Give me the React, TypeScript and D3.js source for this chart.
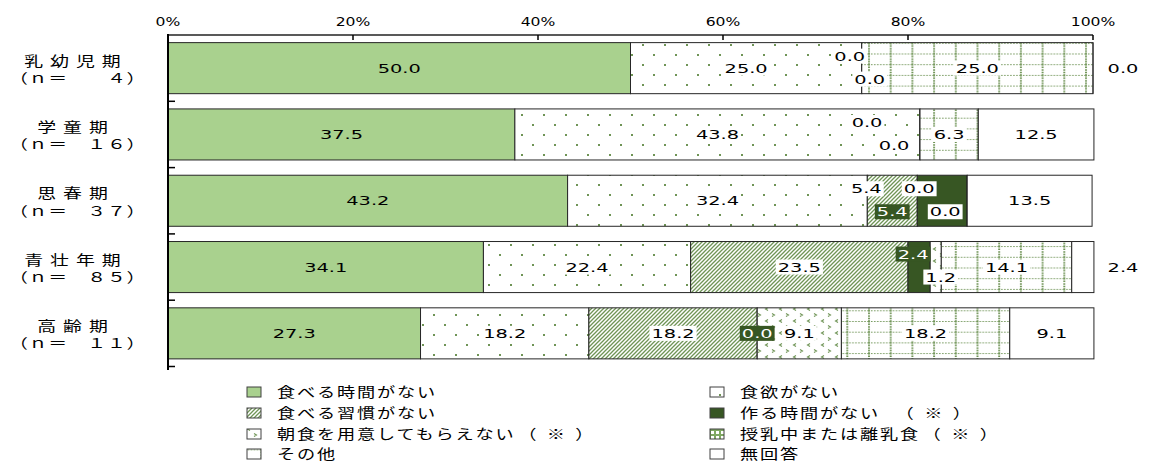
import React from "react";
import * as d3 from "d3";

const groups = ["乳幼児期", "学童期", "思春期", "青壮年期", "高齢期"];
const groupNs = ["（ｎ＝　　４）", "（ｎ＝　１６）", "（ｎ＝　３７）", "（ｎ＝　８５）", "（ｎ＝　１１）"];
const ticks = [0, 20, 40, 60, 80, 100];

// series, in stacking order (null = not asked for that group)
const seriesNames = [
  "食べる時間がない",
  "食欲がない",
  "食べる習慣がない",
  "作る時間がない",
  "朝食を用意してもらえない",
  "授乳中または離乳食",
  "その他",
  "無回答",
];
const seriesNote = ["", "", "", "（※）", "（※）", "（※）", "", ""];
const noTime = [50.0, 37.5, 43.2, 34.1, 27.3];
const noAppetite = [25.0, 43.8, 32.4, 22.4, 18.2];
const noHabit = [0.0, 0.0, 5.4, 23.5, 18.2];
const noTimeToCook = [null, null, 5.4, 2.4, 0.0];
const notPrepared = [null, 0.0, 0.0, 1.2, 9.1];
const nursing = [0.0, null, null, null, null];
const other = [25.0, 6.3, 0.0, 14.1, 18.2];
const noAnswer = [0.0, 12.5, 13.5, 2.4, 9.1];
const seriesValues = [noTime, noAppetite, noHabit, noTimeToCook, notPrepared, nursing, other, noAnswer];

const W = 1153;
const H = 464;
const GREEN = "#a9d18e";
const DARK = "#375623";
const PAT = "#6f9456";

// fills per series (pattern ids defined below)
const fills = [GREEN, "url(#pDots)", "url(#pHatch)", DARK, "url(#pArrow)", "url(#pCheck)", "url(#pGrid)", "#ffffff"];
// label background: none / white / dark
const labelBg = ["none", "white", "white", "dark", "white", "white", "white", "none"];

// hand placement of crowded labels: "row|series" -> [dx, dy]
const nudges: Record<string, [number, number]> = {
  "0|2": [-12, -12],
  "0|5": [8, 11],
  "1|2": [-53, -12],
  "1|4": [-26, 11],
  "2|2": [-26, -12],
  "2|3": [-50, 11],
  "2|4": [-48, -12],
  "2|6": [-22, 11],
  "3|3": [-6, -13],
  "3|4": [5, 10],
};

const FS = 12.5;
const SX = 1.55;
const textW = (s: string) =>
  s.split("").reduce((a, c) => a + (c === "." ? 0.318 : 0.636), 0) * FS * SX;

const JP = "Noto Sans CJK JP";

function Patterns() {
  return (
    <defs>
      <pattern id="pDots" patternUnits="userSpaceOnUse" width="22" height="20">
        <rect width="22" height="20" fill="#fff" />
        <rect x="4" y="4" width="2" height="2" fill={PAT} />
        <rect x="15" y="14" width="2" height="2" fill={PAT} />
      </pattern>
      <pattern id="pHatch" patternUnits="userSpaceOnUse" width="4" height="4">
        <rect width="4" height="4" fill="#fff" />
        <path d="M-1,1 l2,-2 M0,4 l4,-4 M3,5 l2,-2" stroke={PAT} strokeWidth="1.3" />
      </pattern>
      <pattern id="pArrow" patternUnits="userSpaceOnUse" width="14" height="12">
        <rect width="14" height="12" fill="#fff" />
        <path d="M2,1.5 l2.5,1.5 l-2.5,1.5" fill="none" stroke={PAT} strokeWidth="1.1" />
        <path d="M12,7.5 l-2.5,1.5 l2.5,1.5" fill="none" stroke={PAT} strokeWidth="1.1" />
      </pattern>
      <pattern id="pCheck" patternUnits="userSpaceOnUse" width="5" height="5">
        <rect width="5" height="5" fill="#7fa862" />
        <rect x="1" y="1" width="3" height="3" fill="#fff" />
      </pattern>
      <pattern id="pGrid" patternUnits="userSpaceOnUse" width="21.7" height="10.7">
        <rect width="21.7" height="10.7" fill="#fff" />
        <line x1="0" y1="0.5" x2="21.7" y2="0.5" stroke={PAT} strokeWidth="1" strokeDasharray="1.5 1.5" />
        <line x1="1" y1="0" x2="1" y2="10.7" stroke={PAT} strokeWidth="2" strokeDasharray="1.5 1" />
      </pattern>
    </defs>
  );
}

export default function App() {
  const x = d3.scaleLinear().domain([0, 100]).range([168, 1093]);
  const y = d3
    .scaleBand<string>()
    .domain(groups)
    .range([35, 366.5])
    .paddingInner(0.23)
    .paddingOuter(0.115);
  const bw = y.bandwidth();

  const table = groups.map((g, i) => {
    const row: Record<string, any> = { group: g };
    seriesNames.forEach((s, k) => (row[s] = seriesValues[k][i]));
    return row;
  });
  const stacked = d3
    .stack<Record<string, any>>()
    .keys(seriesNames)
    .value((d, key) => d[key] ?? 0)(table);

  const step = y.step();
  const boundaries = groups.map((g) => (y(g) as number) - y.paddingOuter() * step + step);

  const segs: React.ReactNode[] = [];
  const labels: React.ReactNode[] = [];
  stacked.forEach((layer, k) => {
    layer.forEach((d, i) => {
      const v = seriesValues[k][i];
      if (v === null) return;
      const y0 = y(groups[i]) as number;
      const x0 = x(d[0]);
      const x1 = x(d[1]);
      if (v === 0) {
        segs.push(
          <line key={`z${k}-${i}`} x1={x0} x2={x0} y1={y0} y2={y0 + bw} stroke="#262626" strokeWidth={1} />
        );
      } else {
        segs.push(
          <rect
            key={`s${k}-${i}`}
            x={x0}
            y={y0}
            width={x1 - x0}
            height={bw}
            fill={fills[k]}
            stroke="#262626"
            strokeWidth={1}
          />
        );
      }
      const txt = v.toFixed(1);
      let cx = (x0 + x1) / 2;
      let cy = y0 + bw / 2;
      let bg = labelBg[k];
      const n = nudges[`${i}|${k}`];
      if (n) {
        cx += n[0];
        cy += n[1];
      }
      if (k === seriesNames.length - 1 && v < 5) {
        cx = x(100) + 30;
        bg = "none";
      }
      const tw = textW(txt);
      labels.push(
        <g key={`l${k}-${i}`}>
          {bg !== "none" && (
            <rect
              x={cx - tw / 2 - 2}
              y={cy - 7.5}
              width={tw + 4}
              height={15}
              fill={bg === "dark" ? DARK : "#fff"}
            />
          )}
          <text
            transform={`translate(${cx},${cy + 4.5}) scale(${SX},1)`}
            textAnchor="middle"
            fontFamily="DejaVu Sans"
            fontSize={FS}
            fill={bg === "dark" ? "#fff" : "#000"}
          >
            {txt}
          </text>
        </g>
      );
    });
  });

  const legendRows = [392, 413, 434, 454];
  const legendCols = [247, 710];

  return (
    <svg width={W} height={H} style={{ position: "absolute", left: 0, top: 0, background: "#fff" }}>
      <Patterns />
      <rect width={W} height={H} fill="#fff" />

      {ticks.map((t) => (
        <text
          key={`t${t}`}
          transform={`translate(${x(t)},26) scale(1.2,1)`}
          textAnchor="middle"
          fontFamily="DejaVu Sans"
          fontSize={13}
          fill="#000"
        >
          {t}%
        </text>
      ))}

      {segs}

      <line x1={x(0)} x2={x(100)} y1={35} y2={35} stroke="#595959" strokeWidth={2} />
      {ticks.map((t) => (
        <line key={`tk${t}`} x1={x(t)} x2={x(t)} y1={35} y2={40} stroke="#000" strokeWidth={1.5} />
      ))}
      <line x1={x(0)} x2={x(0)} y1={34} y2={370} stroke="#000" strokeWidth={2} />
      {boundaries.map((b, i) => (
        <line key={`b${i}`} x1={x(0)} x2={x(0) + 7} y1={b} y2={b} stroke="#000" strokeWidth={1.5} />
      ))}

      {labels}

      {groups.map((g, i) => {
        const cy = (y(g) as number) + bw / 2;
        return (
          <g key={`g${i}`} fontFamily={JP} fontSize={13.5} fill="#000">
            <text
              transform={`translate(76,${cy - 2.5}) scale(1.4,1)`}
              textAnchor="middle"
              letterSpacing={5}
            >
              {g}
            </text>
            <text transform={`translate(9,${cy + 15}) scale(1.4,1)`} letterSpacing={0.5}>
              {groupNs[i]}
            </text>
          </g>
        );
      })}

      {seriesNames.map((s, k) => {
        const col = k % 2;
        const row = Math.floor(k / 2);
        const lx = legendCols[col];
        const ly = legendRows[row];
        return (
          <g key={`lg${k}`}>
            <rect x={lx} y={ly - 5} width={14} height={10} fill={fills[k]} stroke="#404040" strokeWidth={1} />
            <text
              transform={`translate(${lx + 30},${ly + 5}) scale(1.3,1)`}
              fontFamily={JP}
              fontSize={14}
              letterSpacing={1.4}
              fill="#000"
            >
              {s}
              {seriesNote[k] && (
                <tspan dx={k === 3 ? 12 : 2} letterSpacing={8}>
                  {seriesNote[k]}
                </tspan>
              )}
            </text>
          </g>
        );
      })}
    </svg>
  );
}
